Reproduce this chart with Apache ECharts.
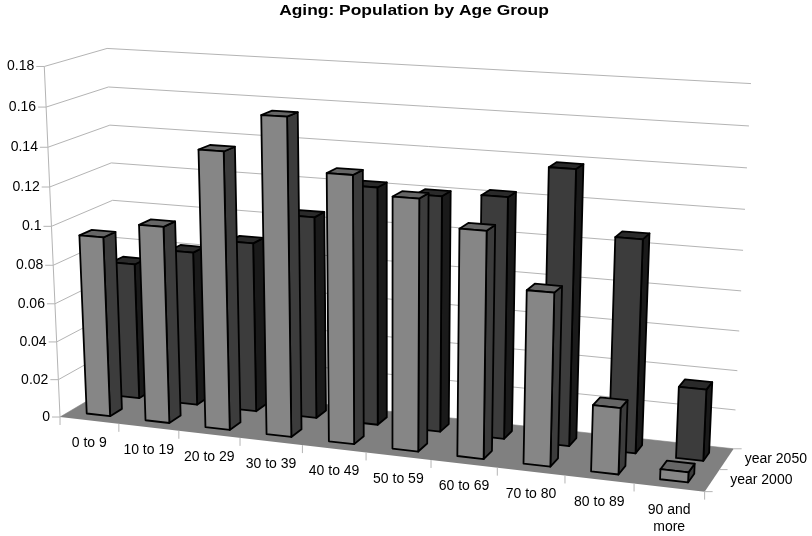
<!DOCTYPE html>
<html>
<head>
<meta charset="utf-8">
<style>html,body{margin:0;background:#fff}#chart{width:812px;height:536px}</style>
<script src="https://cdn.jsdelivr.net/npm/echarts@6/dist/echarts.min.js"></script>
</head>
<body>
<div id="chart"></div>
<script>
const categories = ['0 to 9', '10 to 19', '20 to 29', '30 to 39', '40 to 49', '50 to 59', '60 to 69', '70 to 80', '80 to 89', '90 and\nmore']
const year2000 = [0.094, 0.102, 0.142, 0.161, 0.135, 0.126, 0.113, 0.086, 0.033, 0.005]
const year2050 = [0.0725, 0.0815, 0.089, 0.105, 0.1225, 0.1205, 0.1225, 0.1385, 0.107, 0.036]
const seriesNames = ['year 2000', 'year 2050']
const valueTicks = [0, 0.02, 0.04, 0.06, 0.08, 0.1, 0.12, 0.14, 0.16, 0.18]

// perspective camera fitted to the plot box: u along categories, v into the depth, h up, all 0..1
function project (u, v, h) {
  const w = 1 - 0.09606 * u + 0.05376 * v - 0.04571 * h
  return [
    (60.02205 + 576.92759 * u + 65.66437 * v - 17.7511 * h) / w,
    (417.02658 + 27.38567 * u - 14.6008 * v - 353.58471 * h) / w
  ]
}

// grid pixel -> screen point at depth v
function toScreen (params, pt, v) {
  const r = params.coordSys
  return project((pt[0] - r.x) / r.width, v, (r.y + r.height - pt[1]) / r.height)
}

const font = '14px "Liberation Sans", Arial, sans-serif'
const gridColor = '#b4b4b4'

function line (a, b, color) {
  return { type: 'line', shape: { x1: a[0], y1: a[1], x2: b[0], y2: b[1] }, style: { stroke: color || gridColor, lineWidth: 1 }, silent: true }
}

function face (points, fill) {
  return { type: 'polygon', shape: { points }, style: { fill, stroke: '#000', lineWidth: 1.8, lineJoin: 'round' }, silent: true }
}

function renderFloor (params, api) {
  const a = api.coord([0, 0])
  const b = api.coord([categories.length - 1, 0])
  const half = api.size([1, 0])[0] / 2
  const p = (x, v) => toScreen(params, [x, a[1]], v)
  const x0 = a[0] - half
  const x1 = b[0] + half
  return {
    type: 'group',
    children: [
      { type: 'polygon', shape: { points: [p(x0, 0), p(x1, 0), p(x1, 1), p(x0, 1)] }, style: { fill: '#808080' }, silent: true },
      line(p(x1, 0), [p(x1, 0)[0] + 8, p(x1, 0)[1]]),
      line(p(x1, 0.5), [p(x1, 0.5)[0] + 8, p(x1, 0.5)[1]]),
      line(p(x1, 1), [p(x1, 1)[0] + 8, p(x1, 1)[1]])
    ]
  }
}

function renderWallLine (params, api) {
  const v = api.value(1)
  const half = api.size([1, 0])[0] / 2
  const l = api.coord([0, v])
  const r = api.coord([categories.length - 1, v])
  const x0 = l[0] - half
  const x1 = r[0] + half
  const front = toScreen(params, [x0, l[1]], 0)
  const back = toScreen(params, [x0, l[1]], 1)
  const right = toScreen(params, [x1, r[1]], 1)
  const children = [
    line(front, back),
    line(back, right),
    line(front, [front[0] - 8, front[1]]),
    {
      type: 'text',
      silent: true,
      style: { text: String(v), x: front[0] - 10, y: front[1], font, fill: '#000', align: 'right', verticalAlign: 'middle' }
    }
  ]
  if (v > 0) {
    const below = api.coord([0, v - 0.02])
    children.push(line(front, toScreen(params, [x0, below[1]], 0)))
  }
  return { type: 'group', children }
}

function renderCategory (params, api) {
  const i = api.value(0)
  const c = api.coord([i, 0])
  const band = api.size([1, 0])[0]
  const tick = (x) => {
    const p = toScreen(params, [x, c[1]], 0)
    return line(p, [p[0], p[1] + 8])
  }
  const mid = toScreen(params, [c[0], c[1]], 0)
  const children = [
    tick(c[0] - band / 2),
    {
      type: 'text',
      silent: true,
      style: { text: categories[i], x: mid[0], y: mid[1] + 14, font, fill: '#000', align: 'center', verticalAlign: 'top', lineHeight: 17 }
    }
  ]
  if (i === categories.length - 1) children.push(tick(c[0] + band / 2))
  return { type: 'group', children }
}

function renderDepthLabel (params, api) {
  const i = api.value(0)
  const c = api.coord([categories.length - 1, 0])
  const band = api.size([1, 0])[0]
  const p = toScreen(params, [c[0] + band / 2, c[1]], i === 0 ? 0.25 : 0.75)
  return {
    type: 'text',
    silent: true,
    style: { text: seriesNames[i], x: p[0] + 18, y: p[1], font, fill: '#000', align: 'left', verticalAlign: 'middle' }
  }
}

// gap width and gap depth are both 150%, so a bar takes 40% of its slot
function barRenderer (v0, v1, colors) {
  return (params, api) => {
    const i = api.value(0)
    const top = api.coord([i, api.value(1)])
    const base = api.coord([i, 0])
    const band = api.size([1, 0])[0]
    const x0 = top[0] - band * 0.2
    const x1 = top[0] + band * 0.2
    const p = (x, y, v) => toScreen(params, [x, y], v)
    return {
      type: 'group',
      children: [
        face([p(x1, base[1], v0), p(x1, base[1], v1), p(x1, top[1], v1), p(x1, top[1], v0)], colors.side),
        face([p(x0, top[1], v0), p(x1, top[1], v0), p(x1, top[1], v1), p(x0, top[1], v1)], colors.top),
        face([p(x0, base[1], v0), p(x1, base[1], v0), p(x1, top[1], v0), p(x0, top[1], v0)], colors.front)
      ]
    }
  }
}

const custom = (renderItem, data, z) => ({
  type: 'custom',
  coordinateSystem: 'cartesian2d',
  renderItem,
  data,
  z,
  clip: false,
  silent: true,
  encode: { x: 0, y: 1 }
})
const pairs = (list) => list.map((v, i) => [i, v])

const chart = echarts.init(document.getElementById('chart'))
chart.setOption({
  animation: false,
  backgroundColor: '#fff',
  grid: { left: 0, right: 0, top: 0, bottom: 0 },
  xAxis: { type: 'category', data: categories, show: false },
  yAxis: { type: 'value', min: 0, max: 0.18, interval: 0.02, show: false },
  // the original title is stretched sideways, the title component can't do that
  graphic: [{
    type: 'text',
    x: 414,
    y: 11,
    scaleX: 1.2,
    style: {
      text: 'Aging: Population by Age Group',
      font: 'bold 14.5px "Liberation Sans", Arial, sans-serif',
      fill: '#000',
      align: 'center',
      verticalAlign: 'middle'
    }
  }],
  series: [
    custom(renderWallLine, valueTicks.map(v => [0, v]), 1),
    custom(renderFloor, [[0, 0]], 2),
    custom(renderCategory, categories.map((c, i) => [i, 0]), 3),
    custom(renderDepthLabel, seriesNames.map((s, i) => [i, 0]), 3),
    custom(barRenderer(0.65, 0.85, { front: '#3c3c3c', side: '#1a1a1a', top: '#2a2a2a' }), pairs(year2050), 4),
    custom(barRenderer(0.15, 0.35, { front: '#868686', side: '#3c3c3c', top: '#666666' }), pairs(year2000), 5)
  ]
})
</script>
</body>
</html>
